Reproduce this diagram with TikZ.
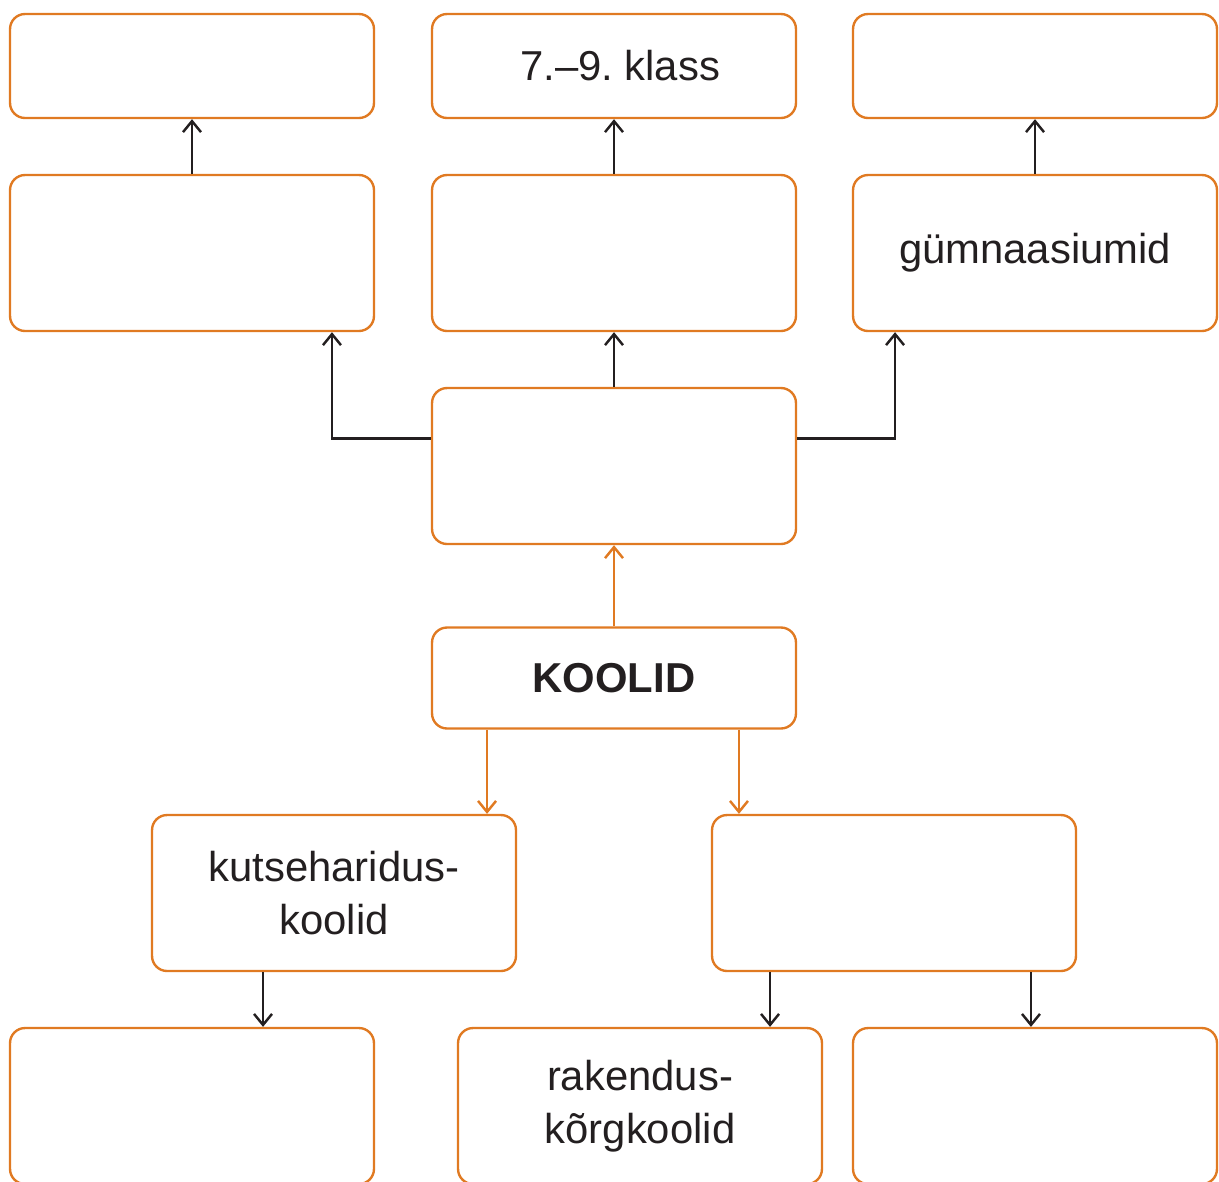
\documentclass[tikz,border=0pt]{standalone}
\usepackage{fontspec}
\setmainfont{Liberation Sans}
\usetikzlibrary{arrows.meta}
\definecolor{koolorange}{RGB}{224,122,34}
\definecolor{joon}{RGB}{35,31,32}
\frenchspacing
\tikzset{
  kast/.style={draw=koolorange, line width=1.35pt, rounded corners=0.3cm,
    minimum width=7.28cm, minimum height=3.12cm, inner sep=0pt, align=center,
    text=joon, font=\fontsize{23.8}{30}\selectfont},
  madal/.style={minimum height=2.08cm},
  nool/.style={draw=joon, line width=1.4pt, -{Straight Barb[length=2.2mm,width=3.6mm]}},
  oranzinool/.style={nool, draw=koolorange},
}
\begin{document}
\begin{tikzpicture}[x=0.02cm,y=-0.02cm]
  \useasboundingbox (0,0) rectangle (1219,1181);
  \clip (0,0) rectangle (1219,1181);

  % ylemine rida
  \node[kast, madal] (ylem1) at (192,66) {};
  \node[kast, madal] (ylem2) at (614,66) {\hspace{7pt}7.–9. klass};
  \node[kast, madal] (ylem3) at (1035,66) {};

  % teine rida
  \node[kast] (kesk1) at (192,253) {};
  \node[kast] (kesk2) at (614,253) {};
  \node[kast] (kesk3) at (1035,253) {gümnaasiumid};

  \node[kast] (pohi) at (614,466) {};
  \node[kast, minimum height=2.02cm] (koolid) at (614,678) {\textbf{KOOLID}};

  \node[kast] (kutse) at (334,893) {kutseharidus-\\koolid};
  \node[kast] (korg) at (894,893) {};

  % alumine rida
  \node[kast] (alum1) at (192,1106) {};
  \node[kast] (alum2) at (640,1106) {rakendus-\\kõrgkoolid};
  \node[kast] (alum3) at (1035,1106) {};

  \draw[nool] (kesk1) -- (ylem1);
  \draw[nool] (kesk2) -- (ylem2);
  \draw[nool] (kesk3) -- (ylem3);

  \draw[nool] (pohi) -- (kesk2);
  \draw[nool] ([yshift=0.55cm]pohi.west) -| ([xshift=2.8cm]kesk1.south);
  \draw[nool] ([yshift=0.55cm]pohi.east) -| ([xshift=-2.8cm]kesk3.south);

  \draw[oranzinool] (koolid) -- (pohi);
  \draw[oranzinool] ([xshift=-2.54cm]koolid.south) -- ([xshift=-2.54cm]koolid.south |- kutse.north);
  \draw[oranzinool] ([xshift=2.5cm]koolid.south) -- ([xshift=2.5cm]koolid.south |- korg.north);

  \draw[nool] ([xshift=-1.42cm]kutse.south) -- ([xshift=-1.42cm]kutse.south |- alum1.north);
  \draw[nool] ([xshift=-2.48cm]korg.south) -- ([xshift=-2.48cm]korg.south |- alum2.north);
  \draw[nool] ([xshift=2.74cm]korg.south) -- ([xshift=2.74cm]korg.south |- alum3.north);
\end{tikzpicture}
\end{document}
